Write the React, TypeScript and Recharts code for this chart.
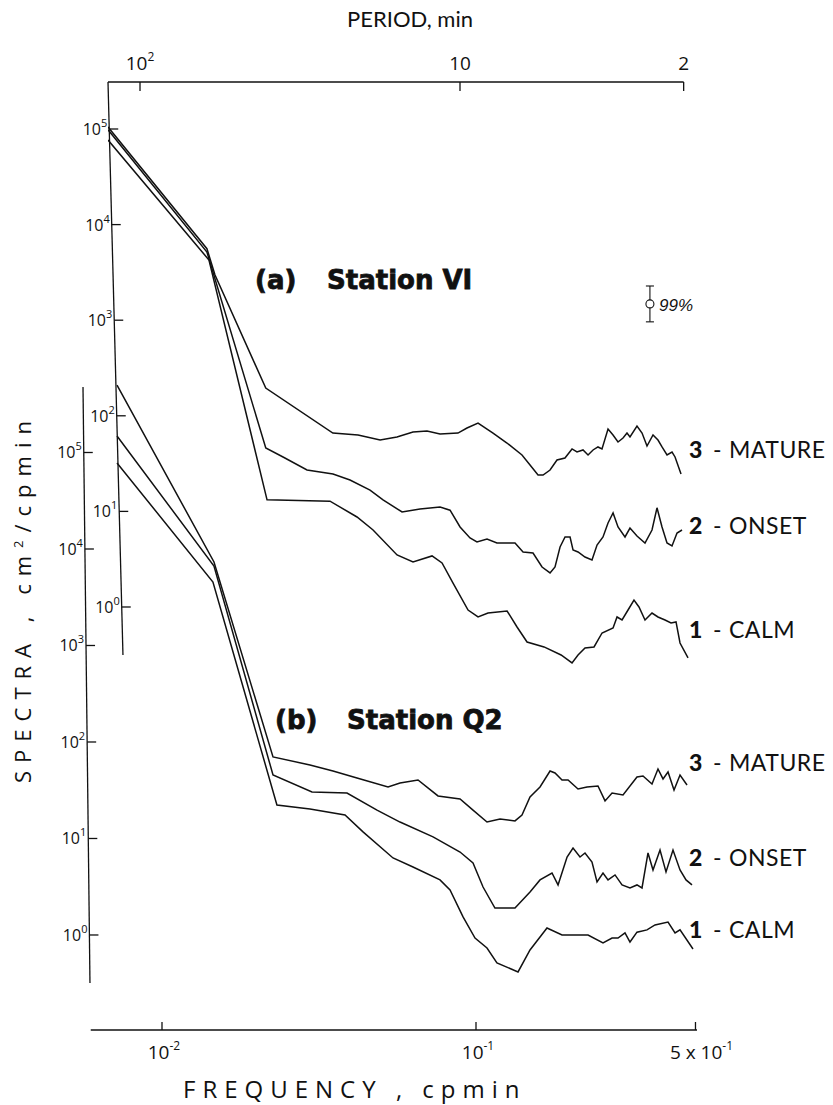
import React from "react";
import { LineChart, Line, XAxis, YAxis, ReferenceLine, ReferenceDot } from "recharts";

// values: frequency in cpmin, spectral density in cm^2/cpmin

// (a) Station VI
const viMatureFreq = [0.00673, 0.0139, 0.01475, 0.0214, 0.035, 0.0421, 0.0495, 0.056, 0.063, 0.0698, 0.0768, 0.0876, 0.0936, 0.1015, 0.1133, 0.1255, 0.1401, 0.1486, 0.1576, 0.1635, 0.1721, 0.1811, 0.192, 0.2022, 0.2097, 0.2192, 0.2274, 0.2359, 0.2446, 0.2519, 0.2633, 0.2731, 0.2833, 0.2939, 0.3026, 0.3093, 0.3256, 0.3379, 0.3504, 0.3662, 0.3798, 0.3912, 0.4058, 0.421, 0.4304, 0.4497];
const viMatureSpec = [105000, 5600, 2970, 195, 66, 63, 55.8, 60, 67.7, 69.3, 64.5, 66, 74.5, 84, 66, 51.9, 38.9, 30.6, 24, 24, 27.1, 34.5, 36.2, 45, 41.8, 43.9, 38.9, 43.9, 47.2, 45, 72.8, 63, 53.2, 58.6, 66, 60, 78.2, 66, 48.3, 63, 55.8, 47.2, 38.9, 41.8, 37.1, 24.6];

const viOnsetFreq = [0.00673, 0.0139, 0.0214, 0.02429, 0.02896, 0.03504, 0.03969, 0.04597, 0.05057, 0.05813, 0.06633, 0.07681, 0.08266, 0.08896, 0.0957, 0.1007, 0.1084, 0.1166, 0.1256, 0.1331, 0.1412, 0.1519, 0.1623, 0.1721, 0.1785, 0.1852, 0.1921, 0.1993, 0.2037, 0.2113, 0.2224, 0.2341, 0.2429, 0.2538, 0.2633, 0.2732, 0.2833, 0.2982, 0.3093, 0.3256, 0.3453, 0.3635, 0.3771, 0.3912, 0.4058, 0.4209, 0.4367, 0.453];
const viOnsetSpec = [98000, 5170, 46, 37.1, 27.1, 24.6, 21.3, 16.7, 13.2, 9.86, 10.6, 11.1, 10.3, 6.87, 5.27, 4.79, 5.14, 4.67, 4.67, 4.67, 3.76, 3.67, 2.62, 2.27, 2.62, 4.24, 5.4, 5.4, 3.95, 3.76, 3.33, 3.1, 4.45, 5.4, 7.56, 9.62, 6.87, 5.4, 6.7, 5.53, 4.67, 6.39, 10.9, 6.87, 4.67, 4.35, 5.94, 6.39];

const viCalmFreq = [0.00673, 0.01411, 0.0216, 0.03428, 0.04178, 0.047, 0.05604, 0.06301, 0.07244, 0.07795, 0.0845, 0.09433, 0.1015, 0.1092, 0.1256, 0.1351, 0.1454, 0.1647, 0.1866, 0.2022, 0.2113, 0.2224, 0.2376, 0.252, 0.2732, 0.2813, 0.2918, 0.3049, 0.3185, 0.3304, 0.3453, 0.3635, 0.3798, 0.3999, 0.4179, 0.4335, 0.4464, 0.4734];
const viCalmSpec = [76700, 4260, 13.2, 12.8, 8.74, 6.39, 3.5, 2.96, 3.42, 2.89, 1.78, 0.93, 0.786, 0.865, 0.908, 0.618, 0.43, 0.382, 0.315, 0.26, 0.315, 0.372, 0.382, 0.535, 0.603, 0.786, 0.731, 0.93, 1.18, 1.0, 0.731, 0.865, 0.786, 0.731, 0.68, 0.697, 0.42, 0.293];

// (b) Station Q2
const q2MatureFreq = [0.00719, 0.01464, 0.02257, 0.0296, 0.03504, 0.04178, 0.05246, 0.05728, 0.06536, 0.07569, 0.08896, 0.09783, 0.1084, 0.1193, 0.1331, 0.1401, 0.1486, 0.1599, 0.1721, 0.1785, 0.1879, 0.1964, 0.2113, 0.2257, 0.2446, 0.2576, 0.2712, 0.2939, 0.3256, 0.3403, 0.3635, 0.3798, 0.3941, 0.4088, 0.4272, 0.4464, 0.4699];
const q2MatureSpec = [500000, 7330, 70, 57.8, 50, 42.4, 34.2, 37.6, 40.4, 27.6, 25.7, 19.7, 14.8, 15.9, 15.2, 17.5, 26.9, 34.2, 50, 47.7, 40.4, 40.4, 32.6, 34.2, 35, 24.5, 29.6, 28.2, 43.4, 44.4, 36.7, 52.5, 41.4, 48.9, 31.8, 45.5, 35.8];

const q2OnsetFreq = [0.00719, 0.01464, 0.02257, 0.03004, 0.03883, 0.04839, 0.05728, 0.07297, 0.08896, 0.09783, 0.1053, 0.1149, 0.1331, 0.1486, 0.1599, 0.1746, 0.1825, 0.195, 0.2037, 0.2144, 0.2224, 0.2341, 0.2429, 0.2538, 0.2633, 0.2772, 0.2918, 0.3093, 0.3256, 0.3378, 0.353, 0.3662, 0.3855, 0.4028, 0.424, 0.4464, 0.4665, 0.4874];
const q2OnsetSpec = [148000, 6670, 45.5, 30.3, 29.6, 19.7, 14.8, 10.4, 7.24, 5.57, 3.14, 1.9, 1.9, 2.79, 3.72, 4.39, 3.3, 6.43, 7.97, 6.43, 7.08, 5.71, 3.54, 4.39, 3.72, 4.19, 3.3, 3.07, 3.3, 3.07, 7.08, 4.72, 7.6, 4.5, 7.6, 4.72, 3.72, 3.3];

const q2CalmFreq = [0.00719, 0.01453, 0.02323, 0.0296, 0.03827, 0.04367, 0.05442, 0.06301, 0.07681, 0.08266, 0.09094, 0.09928, 0.1084, 0.1166, 0.1361, 0.1486, 0.1683, 0.1879, 0.2274, 0.2538, 0.2712, 0.2833, 0.2982, 0.3093, 0.3256, 0.3504, 0.3716, 0.4088, 0.4304, 0.4464, 0.491];
const q2CalmSpec = [77800, 4550, 22.2, 20.2, 17.5, 11.7, 6.28, 5.07, 3.72, 2.93, 1.54, 0.93, 0.733, 0.513, 0.414, 0.7, 1.18, 1.0, 1.0, 0.826, 0.93, 0.93, 1.05, 0.846, 1.07, 1.13, 1.27, 1.36, 1.05, 1.13, 0.716];

// axis ticks
const spectraTicks = [1, 10, 100, 1000, 10000, 100000];
const freqTicks = [0.01, 0.1, 0.5];
const freqTickLabels: [string, string][] = [["10", "-2"], ["10", "-1"], ["5 x 10", "-1"]];
const periodTicks = [100, 10, 2];
const periodTickLabels: [string, string][] = [["10", "2"], ["10", ""], ["2", ""]];

// 99% confidence bar (centre and multiplicative half width)
const ciFreq = 0.358;
const ciSpec = 1480;
const ciFactor = 1.54;

const stageNames = ["MATURE", "ONSET", "CALM"];
const stageNums = ["3", "2", "1"];

// axis ranges (match the frame of the scanned figure, whose vertical axes lean slightly)
const viFreqDomain = [0.006729, 0.5056];
const viSpecDomain = [0.1723, 310200];
const viAxisFreq = [0.006729, 0.00751]; // axis foot sits a little to the right
const viAxisSpan = [310200, 0.3148];
const periodDomain = [1.817, 125.9];
const q2FreqDomain = [0.005603, 0.5056];
const q2SpecDomain = [0.1036, 716000];
const q2AxisFreq = [0.005603, 0.005897];
const q2AxisSpan = [477000, 0.318];
const q2BaseStart = 0.00593;

const W = 833;
const H = 1105;
const INK = "#111";
const TICK_FONT = "'Open Sans', 'DejaVu Sans', sans-serif";
const LABEL_FONT = "Lato, 'Open Sans', sans-serif";
const HEAVY_FONT = "'DejaVu Sans', sans-serif";

const pts = (f: number[], s: number[]) => f.map((v, i) => ({ f: v, s: s[i] }));

const viSeries = [
  { key: "viMature", data: pts(viMatureFreq, viMatureSpec) },
  { key: "viOnset", data: pts(viOnsetFreq, viOnsetSpec) },
  { key: "viCalm", data: pts(viCalmFreq, viCalmSpec) },
];
const q2Series = [
  { key: "q2Mature", data: pts(q2MatureFreq, q2MatureSpec) },
  { key: "q2Onset", data: pts(q2OnsetFreq, q2OnsetSpec) },
  { key: "q2Calm", data: pts(q2CalmFreq, q2CalmSpec) },
];
// invisible anchor so the period axis gets registered
const periodAnchor = periodTicks.map((p) => ({ p, s: viSpecDomain[1] }));

const SpecTick = (props: any) => {
  const { y, payload, skew = 0, top = 0 } = props;
  const x = props.x + skew * (y - top);
  const exp = Math.round(Math.log10(payload.value));
  return (
    <g>
      <path d={`M${x},${y}h9`} stroke={INK} strokeWidth={1.3} fill="none" />
      <text x={x - 2} y={y + 6} textAnchor="end" fontFamily={TICK_FONT} fontSize={16} fill={INK}>
        10
        <tspan dy={-8} fontSize={11}>{exp}</tspan>
      </text>
    </g>
  );
};

const FreqTick = (props: any) => {
  const { x, y, payload } = props;
  const i = freqTicks.indexOf(payload.value);
  const [base, sup] = freqTickLabels[i] ?? [String(payload.value), ""];
  return (
    <g>
      <path d={`M${x},${y}v-8`} stroke={INK} strokeWidth={1.3} fill="none" />
      <text x={i === 2 ? x + 6 : x + 2} y={y + 29} textAnchor="middle" fontFamily={TICK_FONT} fontSize={19} fill={INK}>
        {base}
        <tspan dy={-9} fontSize={12}>{sup}</tspan>
      </text>
    </g>
  );
};

const PeriodTick = (props: any) => {
  const { x, y, payload } = props;
  const i = periodTicks.indexOf(payload.value);
  const [base, sup] = periodTickLabels[i] ?? [String(payload.value), ""];
  return (
    <g>
      <path d={`M${x},${y}v9`} stroke={INK} strokeWidth={1.3} fill="none" />
      <text x={x} y={y - 12} textAnchor="middle" fontFamily={TICK_FONT} fontSize={19} fill={INK}>
        {base}
        {sup && <tspan dy={-9} fontSize={12}>{sup}</tspan>}
      </text>
    </g>
  );
};

const layer: React.CSSProperties = { position: "absolute", left: 0, top: 0 };

function StageLabels({ ys }: { ys: number[] }) {
  return (
    <>
      {ys.map((y, i) => (
        <g key={i} fill={INK}>
          <text x={689} y={y + 8} fontFamily={LABEL_FONT} fontWeight={900} fontSize={23}>
            {stageNums[i]}
          </text>
          <text x={713} y={y + 8} fontFamily={LABEL_FONT} fontSize={23}>-</text>
          <text x={729} y={y + 8} fontFamily={LABEL_FONT} fontSize={23} letterSpacing={0.5}>
            {stageNames[i]}
          </text>
        </g>
      ))}
    </>
  );
}

export default function App() {
  return (
    <div style={{ position: "absolute", left: 0, top: 0, width: W, height: H, background: "#fff", overflow: "hidden" }}>
      {/* (a) Station VI */}
      <div style={layer}>
        <LineChart width={W} height={H} margin={{ top: 52, right: 136, bottom: 425, left: 68 }}>
          <XAxis xAxisId="f" dataKey="f" type="number" scale="log" domain={viFreqDomain} hide allowDataOverflow />
          <XAxis
            xAxisId="p"
            dataKey="p"
            type="number"
            scale="log"
            orientation="top"
            domain={periodDomain}
            reversed
            ticks={periodTicks}
            tick={<PeriodTick />}
            tickSize={0}
            tickMargin={0}
            axisLine={false}
            tickLine={false}
            height={30}
            allowDataOverflow
          />
          <YAxis
            yAxisId="s"
            type="number"
            scale="log"
            domain={viSpecDomain}
            ticks={spectraTicks}
            tick={<SpecTick skew={0.0262} top={82} />}
            tickSize={0}
            tickMargin={0}
            axisLine={false}
            tickLine={false}
            width={40}
            allowDataOverflow
          />
          <Line
            data={periodAnchor}
            dataKey="s"
            xAxisId="p"
            yAxisId="s"
            stroke="none"
            dot={false}
            activeDot={false}
            legendType="none"
            isAnimationActive={false}
          />
          <ReferenceLine
            xAxisId="f"
            yAxisId="s"
            segment={[{ x: viAxisFreq[0], y: viAxisSpan[0] }, { x: viAxisFreq[1], y: viAxisSpan[1] }]}
            stroke={INK}
            strokeWidth={1.3}
            ifOverflow="visible"
          />
          <ReferenceLine
            xAxisId="p"
            yAxisId="s"
            segment={[{ x: periodDomain[1], y: viSpecDomain[1] }, { x: periodTicks[2], y: viSpecDomain[1] }]}
            stroke={INK}
            strokeWidth={1.3}
            ifOverflow="visible"
          />
          {/* 99% confidence bar */}
          <ReferenceLine
            xAxisId="f"
            yAxisId="s"
            segment={[{ x: ciFreq, y: ciSpec / ciFactor }, { x: ciFreq, y: ciSpec * ciFactor }]}
            stroke={INK}
            strokeWidth={1.1}
            ifOverflow="visible"
          />
          <ReferenceLine
            xAxisId="f"
            yAxisId="s"
            segment={[{ x: ciFreq / 1.03, y: ciSpec * ciFactor }, { x: ciFreq * 1.03, y: ciSpec * ciFactor }]}
            stroke={INK}
            strokeWidth={1.1}
            ifOverflow="visible"
          />
          <ReferenceLine
            xAxisId="f"
            yAxisId="s"
            segment={[{ x: ciFreq / 1.03, y: ciSpec / ciFactor }, { x: ciFreq * 1.03, y: ciSpec / ciFactor }]}
            stroke={INK}
            strokeWidth={1.1}
            ifOverflow="visible"
          />
          <ReferenceDot xAxisId="f" yAxisId="s" x={ciFreq} y={ciSpec} r={4} fill="#fff" stroke={INK} strokeWidth={1.1} ifOverflow="visible" />
          {viSeries.map((s) => (
            <Line
              key={s.key}
              data={s.data}
              dataKey="s"
              xAxisId="f"
              yAxisId="s"
              type="linear"
              dot={false}
              activeDot={false}
              stroke={INK}
              strokeWidth={1.5}
              isAnimationActive={false}
            />
          ))}
        </LineChart>
      </div>

      {/* (b) Station Q2 */}
      <div style={layer}>
        <LineChart width={W} height={H} margin={{ top: 370, right: 136, bottom: 45, left: 43 }}>
          <XAxis
            xAxisId="f"
            dataKey="f"
            type="number"
            scale="log"
            domain={q2FreqDomain}
            ticks={freqTicks}
            tick={<FreqTick />}
            tickSize={0}
            tickMargin={0}
            axisLine={false}
            tickLine={false}
            height={30}
            allowDataOverflow
          />
          <YAxis
            yAxisId="s"
            type="number"
            scale="log"
            domain={q2SpecDomain}
            ticks={spectraTicks}
            tick={<SpecTick skew={0.01175} top={387} />}
            tickSize={0}
            tickMargin={0}
            axisLine={false}
            tickLine={false}
            width={40}
            allowDataOverflow
          />
          <ReferenceLine
            xAxisId="f"
            yAxisId="s"
            segment={[{ x: q2AxisFreq[0], y: q2AxisSpan[0] }, { x: q2AxisFreq[1], y: q2AxisSpan[1] }]}
            stroke={INK}
            strokeWidth={1.3}
            ifOverflow="visible"
          />
          <ReferenceLine
            xAxisId="f"
            yAxisId="s"
            segment={[{ x: q2BaseStart, y: q2SpecDomain[0] }, { x: q2FreqDomain[1], y: q2SpecDomain[0] }]}
            stroke={INK}
            strokeWidth={1.3}
            ifOverflow="visible"
          />
          {q2Series.map((s) => (
            <Line
              key={s.key}
              data={s.data}
              dataKey="s"
              xAxisId="f"
              yAxisId="s"
              type="linear"
              dot={false}
              activeDot={false}
              stroke={INK}
              strokeWidth={1.5}
              isAnimationActive={false}
            />
          ))}
        </LineChart>
      </div>

      {/* titles and annotations */}
      <svg width={W} height={H} style={{ ...layer, pointerEvents: "none" }}>
        <text x={410} y={27} textAnchor="middle" fontFamily={LABEL_FONT} fontSize={22} fill={INK}>
          PERIOD, min
        </text>
        <text
          x={31}
          y={598}
          transform="rotate(-90 31 598)"
          textAnchor="middle"
          fontFamily={TICK_FONT}
          fontSize={22}
          letterSpacing={8}
          fill={INK}
        >
          SPECTRA , cm<tspan dy={-8} fontSize={13}>2</tspan>
          <tspan dy={8}>/cpmin</tspan>
        </text>
        <text x={183} y={1098} fontFamily={TICK_FONT} fontSize={24} letterSpacing={7} fill={INK}>
          FREQUENCY , cpmin
        </text>
        <g fontFamily={HEAVY_FONT} fontWeight={700} fontSize={26} fill={INK} stroke={INK} strokeWidth={0.8}>
          <text x={255} y={289}>(a)</text>
          <text x={327} y={289}>Station VI</text>
          <text x={275} y={729}>(b)</text>
          <text x={347} y={729}>Station Q2</text>
        </g>
        <text x={659} y={311} fontFamily="'Liberation Sans', sans-serif" fontStyle="italic" fontSize={17} fill={INK}>
          99%
        </text>
        <StageLabels ys={[450, 526, 630]} />
        <StageLabels ys={[763, 858, 930]} />
      </svg>
    </div>
  );
}
